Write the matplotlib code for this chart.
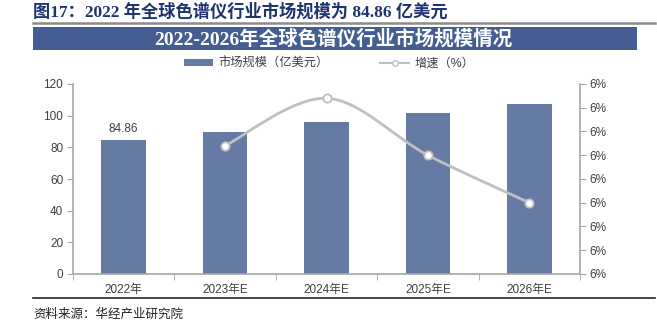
import matplotlib
matplotlib.use("Agg")
import matplotlib.pyplot as plt
from matplotlib.path import Path
from matplotlib.patches import PathPatch, Rectangle
from matplotlib.lines import Line2D
from matplotlib.ticker import MultipleLocator, FuncFormatter
import numpy as np

plt.rcParams['font.family'] = ['Liberation Sans', 'Noto Sans CJK SC', 'DejaVu Sans']

categories = ["2022年", "2023年E", "2024年E", "2025年E", "2026年E"]
market_size = [84.86, 89.9, 95.8, 101.5, 107.4]
growth_cats = ["2023年E", "2024年E", "2025年E", "2026年E"]
growth = [6.14, 6.34, 6.10, 5.90]
label_2022 = "84.86"

W, H = 657, 329
fig = plt.figure(figsize=(W / 100, H / 100), dpi=100)

def fx(px):
    return px / W

def fy(py):
    return 1 - py / H

# Header title
fig.text(fx(33), fy(12), "图17：2022 年全球色谱仪行业市场规模为 84.86 亿美元",
         family=['Liberation Serif', 'Noto Sans CJK SC'], fontweight='bold',
         fontsize=12.4, color='#1f3370', va='center', ha='left')
fig.add_artist(Line2D([fx(33), fx(655)], [fy(23), fy(23)], color='#8c8c8c', lw=1.8))
fig.add_artist(Rectangle((fx(33), fy(50)), fx(637) - fx(33), fy(27) - fy(50),
                         transform=fig.transFigure, facecolor='#445d93', edgecolor='none'))
fig.text(fx(333), fy(38.5), "2022-2026年全球色谱仪行业市场规模情况",
         family=['Liberation Serif', 'Noto Sans CJK SC'], fontweight='bold',
         fontsize=14, color='white', va='center', ha='center')

# Bottom rule and source
fig.add_artist(Line2D([fx(33), fx(655)], [fy(298), fy(298)], color='#222222', lw=1.2))
fig.text(fx(33), fy(314), "资料来源：华经产业研究院", family=['Noto Sans CJK SC'],
         fontsize=9, color='#222222', va='center', ha='left')

ax = fig.add_axes([fx(73), fy(274), fx(580) - fx(73), fy(84) - fy(274)])
x = np.arange(len(categories))
bar_color = '#667ba3'
ax.bar(x, market_size, width=0.44, color=bar_color, zorder=2)
ax.set_xlim(-0.5, len(categories) - 0.5)
ax.set_ylim(0, 120)
ax.yaxis.set_major_locator(MultipleLocator(20))
ax.set_xticks(x)
ax.set_xticklabels(categories)
ax.set_xticks(np.arange(len(categories) + 1) - 0.5, minor=True)
ax.tick_params(axis='x', which='major', length=0, pad=7, labelsize=8.5, labelcolor='#404040')
ax.tick_params(axis='x', which='minor', length=4, color='#a6a6a6', direction='out')
ax.tick_params(axis='y', length=4, color='#a6a6a6', labelsize=8.5, labelcolor='#404040', pad=3)
for s in ['top', 'right']:
    ax.spines[s].set_visible(False)
for s in ['left', 'bottom']:
    ax.spines[s].set_color('#a6a6a6')
    ax.spines[s].set_linewidth(1.2)
ax.text(x[0], market_size[0] + 3, label_2022, ha='center', va='bottom',
        fontsize=8.5, color='#404040')

ax2 = ax.twinx()
ax2.set_ylim(5.6, 6.4)
ax2.yaxis.set_major_locator(MultipleLocator(0.1))
ax2.yaxis.set_major_formatter(FuncFormatter(lambda v, p: f"{v:.0f}%"))
ax2.tick_params(axis='y', length=4, color='#a6a6a6', labelsize=8.5, labelcolor='#404040', pad=3)
for s in ['top', 'left', 'bottom']:
    ax2.spines[s].set_visible(False)
ax2.spines['right'].set_color('#a6a6a6')
ax2.spines['right'].set_linewidth(1.2)

gx = np.array([categories.index(c) for c in growth_cats], dtype=float)
gy = np.array(growth)
# smooth curve through the points (Catmull-Rom as cubic Bezier)
verts = [(gx[0], gy[0])]
codes = [Path.MOVETO]
n = len(gx)
t = 1 / 6
for i in range(n - 1):
    p0 = np.array([gx[max(i - 1, 0)], gy[max(i - 1, 0)]])
    p1 = np.array([gx[i], gy[i]])
    p2 = np.array([gx[i + 1], gy[i + 1]])
    p3 = np.array([gx[min(i + 2, n - 1)], gy[min(i + 2, n - 1)]])
    c1 = p1 + (p2 - p0) * t
    c2 = p2 - (p3 - p1) * t
    verts += [tuple(c1), tuple(c2), tuple(p2)]
    codes += [Path.CURVE4] * 3
line_color = '#bfbfbf'
ax2.add_patch(PathPatch(Path(verts, codes), facecolor='none', edgecolor=line_color,
                        lw=2, zorder=3))
ax2.plot(gx, gy, linestyle='none', marker='o', markersize=6, markerfacecolor='white',
         markeredgecolor=line_color, markeredgewidth=1.3, zorder=4)

handles = [Rectangle((0, 0), 1, 1, facecolor=bar_color),
           Line2D([0], [0], color=line_color, lw=1.5, marker='o', markersize=4,
                  markerfacecolor='white', markeredgecolor=line_color)]
fig.legend(handles, ["市场规模（亿美元）", "增速（%）"], loc='center',
           bbox_to_anchor=(fx(329), fy(64)), ncol=2, frameon=False, fontsize=8.8,
           labelcolor='#404040', handlelength=2.4, handleheight=0.5, columnspacing=4.2,
           handletextpad=0.4)

fig.savefig("out.png", dpi=100)
